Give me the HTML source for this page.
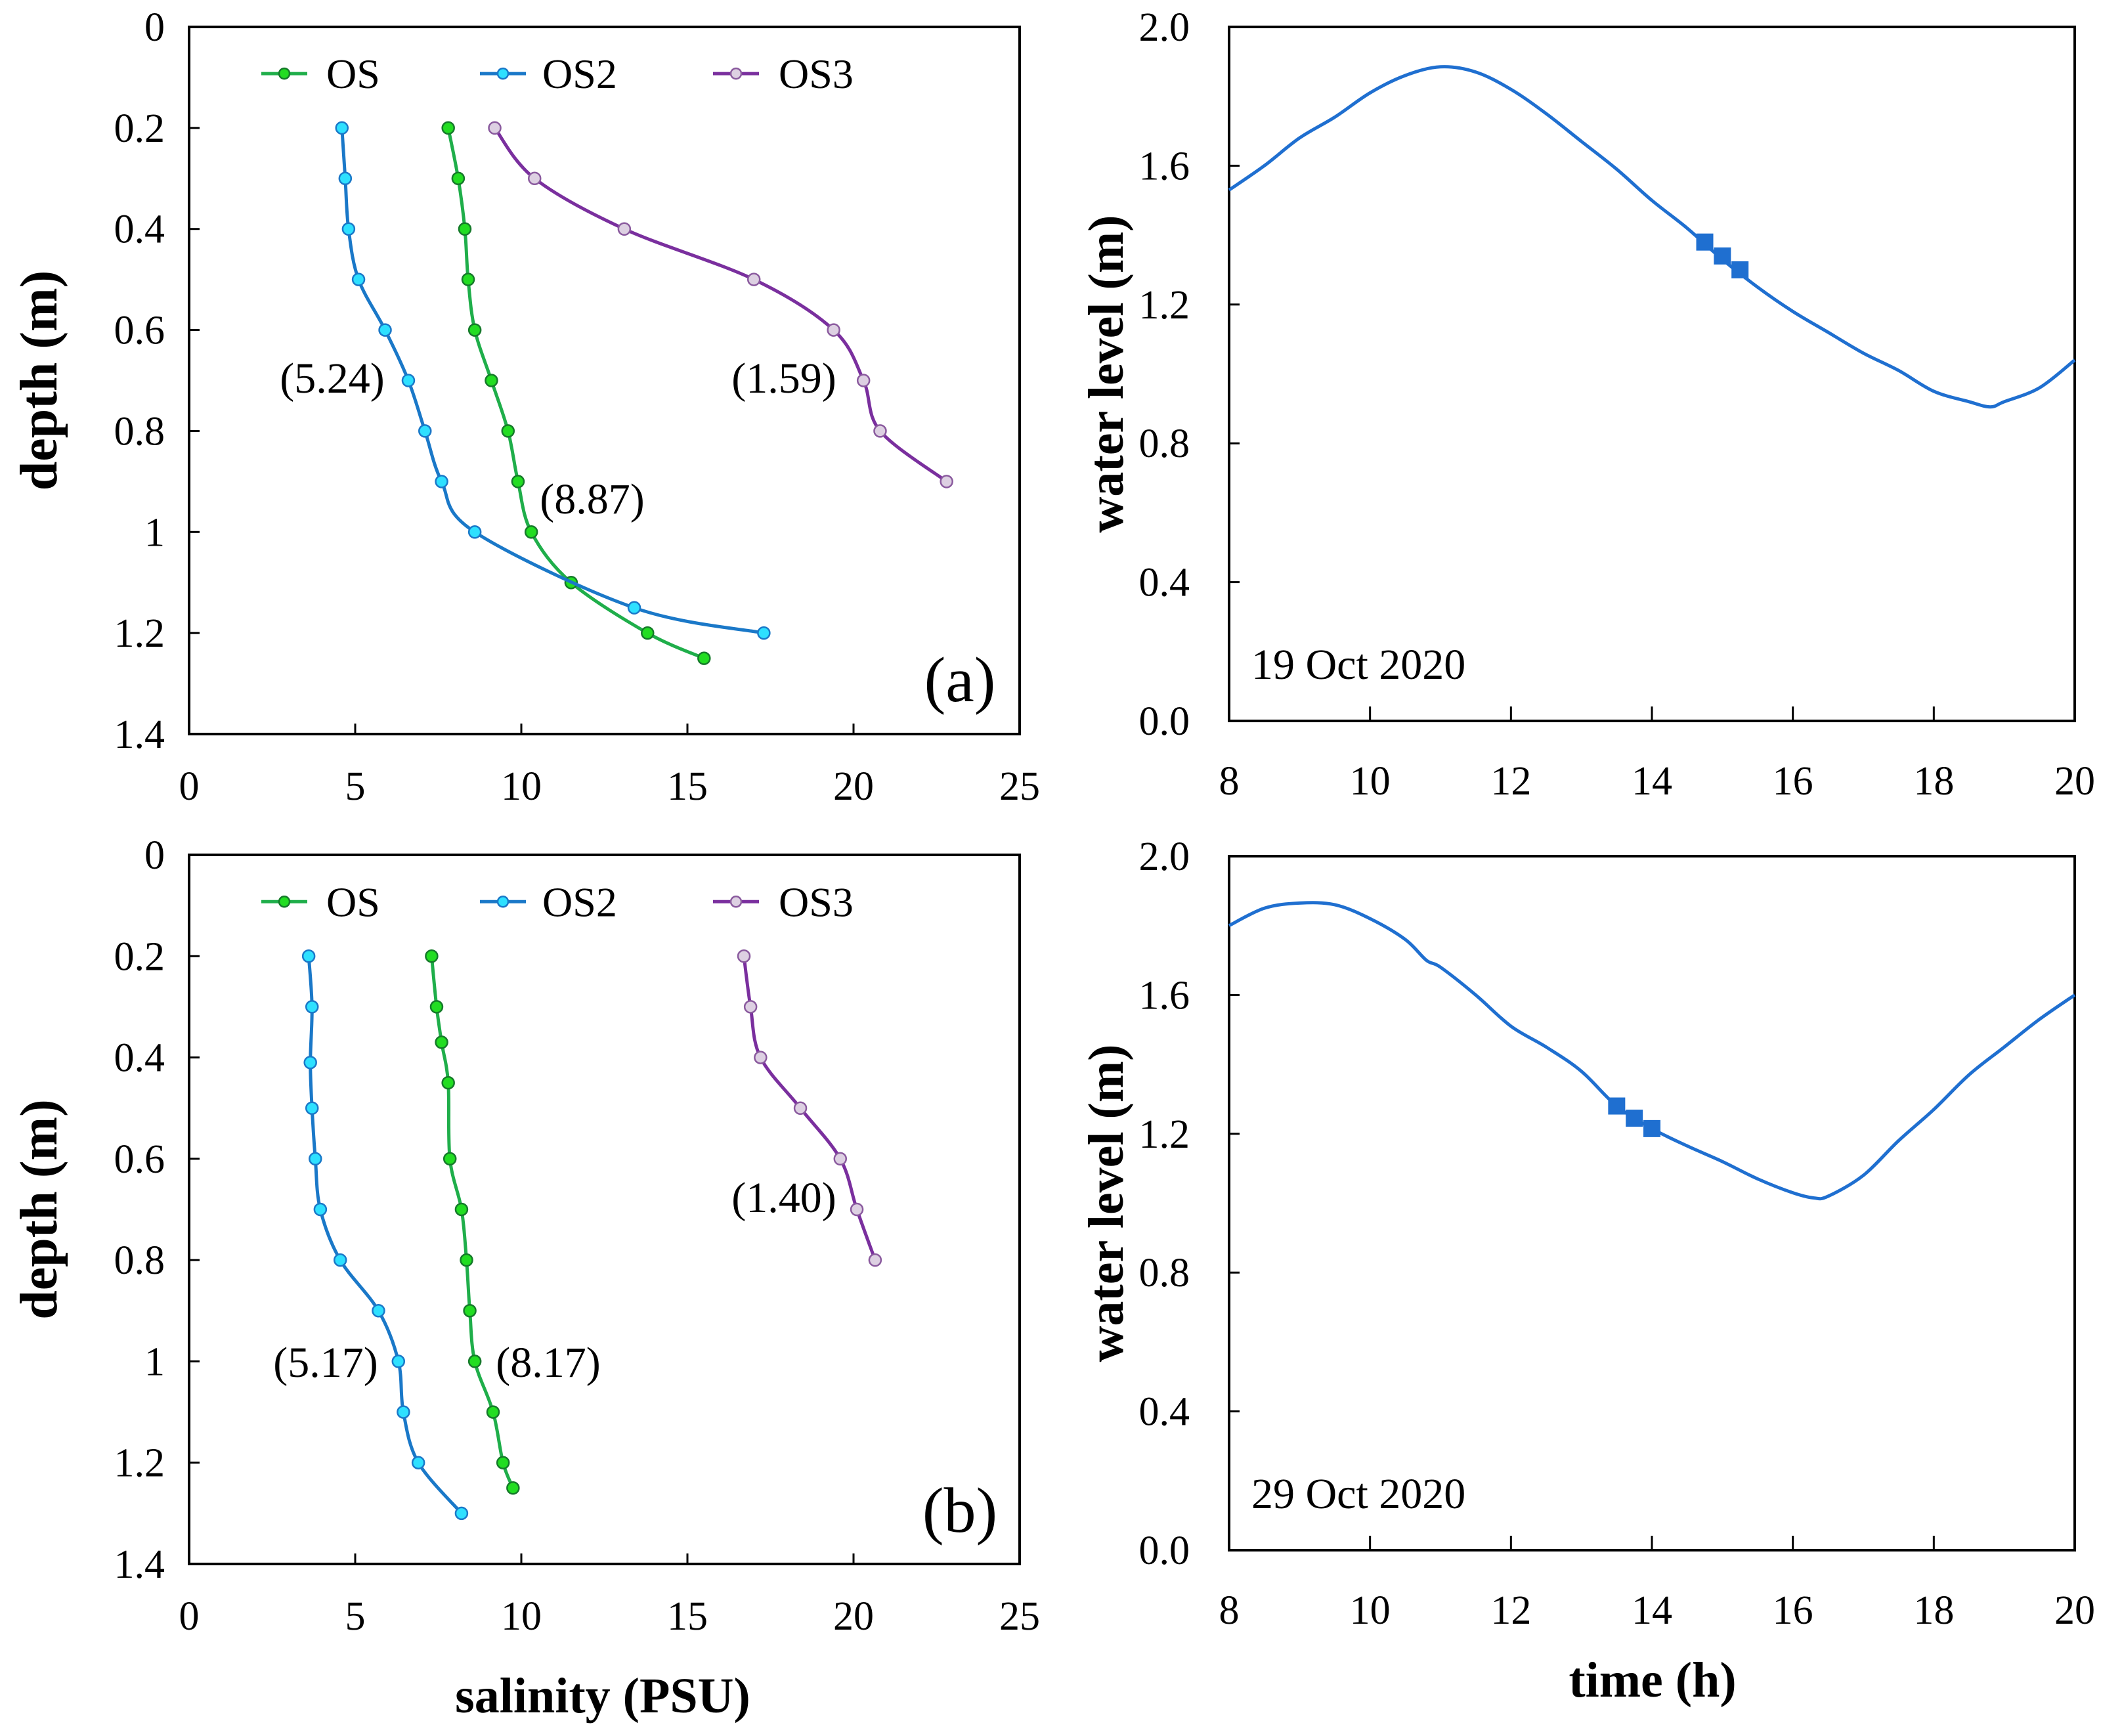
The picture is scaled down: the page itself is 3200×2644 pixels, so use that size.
<!DOCTYPE html>
<html><head><meta charset="utf-8"><style>
html,body{margin:0;padding:0;background:#fff;}
svg{display:block;font-family:"Liberation Serif",serif;}
</style></head><body>
<svg id="fig" width="3200" height="2644" viewBox="0 0 3200 2644" xmlns="http://www.w3.org/2000/svg"></svg>
<script>
// ---- data ----
const depthA_OS = [0.2,0.3,0.4,0.5,0.6,0.7,0.8,0.9,1.0,1.1,1.2,1.25];
const salA_OS = [7.8,8.1,8.3,8.4,8.6,9.1,9.6,9.9,10.3,11.5,13.8,15.5];
const depthA_OS2 = [0.2,0.3,0.4,0.5,0.6,0.7,0.8,0.9,1.0,1.15,1.2];
const salA_OS2 = [4.6,4.7,4.8,5.1,5.9,6.6,7.1,7.6,8.6,13.4,17.3];
const depthA_OS3 = [0.2,0.3,0.4,0.5,0.6,0.7,0.8,0.9];
const salA_OS3 = [9.2,10.4,13.1,17.0,19.4,20.3,20.8,22.8];

const depthB_OS = [0.2,0.3,0.37,0.45,0.6,0.7,0.8,0.9,1.0,1.1,1.2,1.25];
const salB_OS = [7.3,7.45,7.6,7.8,7.85,8.2,8.35,8.45,8.6,9.15,9.45,9.75];
const depthB_OS2 = [0.2,0.3,0.41,0.5,0.6,0.7,0.8,0.9,1.0,1.1,1.2,1.3];
const salB_OS2 = [3.6,3.7,3.65,3.7,3.8,3.95,4.55,5.7,6.3,6.45,6.9,8.2];
const depthB_OS3 = [0.2,0.3,0.4,0.5,0.6,0.7,0.8];
const salB_OS3 = [16.7,16.9,17.2,18.4,19.6,20.1,20.65];

const salTicks = [0,5,10,15,20,25];
const depthTicks = [0,0.2,0.4,0.6,0.8,1,1.2,1.4];
const depthTickLabels = ["0","0.2","0.4","0.6","0.8","1","1.2","1.4"];

const timeA = [8,8.5,9,9.5,10,10.5,11,11.5,12,12.5,13,13.5,14,14.5,15,15.5,16,16.5,17,17.5,18,18.5,18.8,19,19.5,20];
const levelA = [1.53,1.60,1.68,1.74,1.81,1.86,1.885,1.87,1.82,1.75,1.67,1.59,1.50,1.42,1.33,1.25,1.18,1.12,1.06,1.01,0.95,0.92,0.905,0.92,0.96,1.04];
const markTimeA = [14.75,15.0,15.25];
const markLevelA = [1.38,1.34,1.30];

const timeB = [8,8.5,9,9.5,10,10.5,10.8,11,11.5,12,12.5,13,13.5,14,14.5,15,15.5,16,16.3,16.5,17,17.5,18,18.5,19,19.5,20];
const levelB = [1.80,1.85,1.865,1.86,1.82,1.76,1.70,1.68,1.60,1.51,1.45,1.38,1.28,1.215,1.165,1.12,1.07,1.03,1.015,1.02,1.08,1.18,1.27,1.37,1.45,1.53,1.60];
const markTimeB = [13.5,13.75,14.0];
const markLevelB = [1.28,1.245,1.215];

const timeTicks = [8,10,12,14,16,18,20];
const levelTicks = [0,0.4,0.8,1.2,1.6,2.0];
const levelTickLabels = ["0.0","0.4","0.8","1.2","1.6","2.0"];

// ---- drawing ----
const NS="http://www.w3.org/2000/svg";
const svg=document.getElementById('fig');
function el(tag,attrs,parent,text){const e=document.createElementNS(NS,tag);for(const k in attrs)e.setAttribute(k,attrs[k]);if(text!==undefined)e.textContent=text;(parent||svg).appendChild(e);return e;}
function smooth(pts){let d=`M${pts[0][0]},${pts[0][1]}`;for(let i=0;i<pts.length-1;i++){const p0=pts[i-1]||pts[i],p1=pts[i],p2=pts[i+1],p3=pts[i+2]||p2;const t=0.5/3;d+=` C${p1[0]+(p2[0]-p0[0])*t},${p1[1]+(p2[1]-p0[1])*t} ${p2[0]-(p3[0]-p1[0])*t},${p2[1]-(p3[1]-p1[1])*t} ${p2[0]},${p2[1]}`;}return d;}

const COL={OS:{line:'#1fae4a',fill:'#22dd22',stroke:'#157a2a'},OS2:{line:'#1a78c8',fill:'#2ee0ff',stroke:'#1a78c8'},OS3:{line:'#7a2f9e',fill:'#ddd0e2',stroke:'#8a5a9e'}};

function depthPanel(top,bottom,series,labels,panelLetter,name){
  const L=288,R=1553;
  const sx=v=>L+(v/25)*(R-L), sy=v=>top+(v/1.4)*(bottom-top);
  const g=el('g',{},svg);
  
  
  const frame=el('rect',{x:L,y:top,width:R-L,height:bottom-top,fill:'none',stroke:'#000','stroke-width':4},g);
  
  
  salTicks.forEach(t=>{
    if(t>0&&t<25){const tk=el('line',{x1:sx(t),x2:sx(t),y1:bottom,y2:bottom-16,stroke:'#000','stroke-width':3},g);
    }
    const tl=el('text',{x:sx(t),y:bottom+100,'font-size':62,'text-anchor':'middle'},g,String(t));
    
  });
  depthTicks.forEach((t,i)=>{
    if(t>0&&t<1.4){const tk=el('line',{x1:L,x2:L+16,y1:sy(t),y2:sy(t),stroke:'#000','stroke-width':3},g);
    }
    const tl=el('text',{x:251,y:sy(t)+21,'font-size':62,'text-anchor':'end'},g,depthTickLabels[i]);
    
  });
  series.forEach(s=>{
    const c=COL[s.key];
    const pts=s.x.map((v,i)=>[sx(v),sy(s.y[i])]);
    const p=el('path',{d:smooth(pts),fill:'none',stroke:c.line,'stroke-width':5},g);
    
    
    pts.forEach(q=>{const m=el('circle',{cx:q[0],cy:q[1],r:9,fill:c.fill,stroke:c.stroke,'stroke-width':2.5},g);
      
      });
  });
  // legend
  const ly=top+(bottom-top)*0.066;
  [['OS',398,497],['OS2',731,826],['OS3',1086,1186]].forEach(([k,x,tx])=>{
    const c=COL[k];
    const lg=el('g',{},g);
    
    
    el('line',{x1:x,x2:x+70,y1:ly,y2:ly,stroke:c.line,'stroke-width':5},lg);
    el('circle',{cx:x+35,cy:ly,r:8,fill:c.fill,stroke:c.stroke,'stroke-width':2.5},lg);
    el('text',{x:tx,y:ly+22,'font-size':64},lg,k);
  });
  labels.forEach(([t,x,y])=>{const a=el('text',{x:x,y:y,'font-size':66,'text-anchor':'middle'},g,t);
    });
  const pl=el('text',{x:1462,y:panelLetter[1],'font-size':98,'text-anchor':'middle'},g,panelLetter[0]);
  
  const yt=el('text',{x:0,y:0,'font-size':80,'font-weight':'bold','text-anchor':'middle',transform:`translate(86,${(top+bottom)/2}) rotate(-90)`},g,'depth  (m)');
  
}

depthPanel(41,1118,[{key:'OS',x:salA_OS,y:depthA_OS},{key:'OS2',x:salA_OS2,y:depthA_OS2},{key:'OS3',x:salA_OS3,y:depthA_OS3}],
  [['(5.24)',506,598],['(8.87)',902,782],['(1.59)',1194,598]],['(a)',1068],'panel-a');
depthPanel(1302,2382,[{key:'OS',x:salB_OS,y:depthB_OS},{key:'OS2',x:salB_OS2,y:depthB_OS2},{key:'OS3',x:salB_OS3,y:depthB_OS3}],
  [['(5.17)',496,2097],['(8.17)',835,2097],['(1.40)',1194,1846]],['(b)',2333],'panel-b');

function levelPanel(top,bottom,tx,ty,mx,my,date,name){
  const L=1872,R=3160;
  const sx=v=>L+((v-8)/12)*(R-L), sy=v=>bottom-(v/2)*(bottom-top);
  const g=el('g',{},svg);
  
  
  const frame=el('rect',{x:L,y:top,width:R-L,height:bottom-top,fill:'none',stroke:'#000','stroke-width':4},g);
  
  timeTicks.forEach(t=>{
    if(t>8&&t<20){const tk=el('line',{x1:sx(t),x2:sx(t),y1:bottom,y2:bottom-22,stroke:'#000','stroke-width':3},g);
      }
    const tl=el('text',{x:sx(t),y:bottom+112,'font-size':62,'text-anchor':'middle'},g,String(t));
    
  });
  levelTicks.forEach((t,i)=>{
    if(t>0&&t<2){const tk=el('line',{x1:L,x2:L+16,y1:sy(t),y2:sy(t),stroke:'#000','stroke-width':3},g);
      }
    const tl=el('text',{x:1812,y:sy(t)+21,'font-size':62,'text-anchor':'end'},g,levelTickLabels[i]);
    
  });
  const pts=tx.map((v,i)=>[sx(v),sy(ty[i])]);
  const p=el('path',{d:smooth(pts),fill:'none',stroke:'#1f6fd0','stroke-width':5},g);
  
  mx.forEach((v,i)=>{const m=el('rect',{x:sx(v)-13,y:sy(my[i])-13,width:26,height:26,fill:'#1f6fd0'},g);
    });
  const d=el('text',{x:1906,y:bottom-64,'font-size':66},g,date);
  
  const yt=el('text',{x:0,y:0,'font-size':76,'font-weight':'bold','text-anchor':'middle',transform:`translate(1710,${(top+bottom)/2}) rotate(-90)`},g,'water level (m)');
  
}
levelPanel(41,1098,timeA,levelA,markTimeA,markLevelA,'19 Oct 2020','panel-water-level-19oct');
levelPanel(1304,2361,timeB,levelB,markTimeB,markLevelB,'29 Oct 2020','panel-water-level-29oct');

const xt1=el('text',{x:918,y:2608,'font-size':76,'font-weight':'bold','text-anchor':'middle'},svg,'salinity (PSU)');

const xt2=el('text',{x:2517,y:2584,'font-size':76,'font-weight':'bold','text-anchor':'middle'},svg,'time (h)');

</script>
</body></html>
